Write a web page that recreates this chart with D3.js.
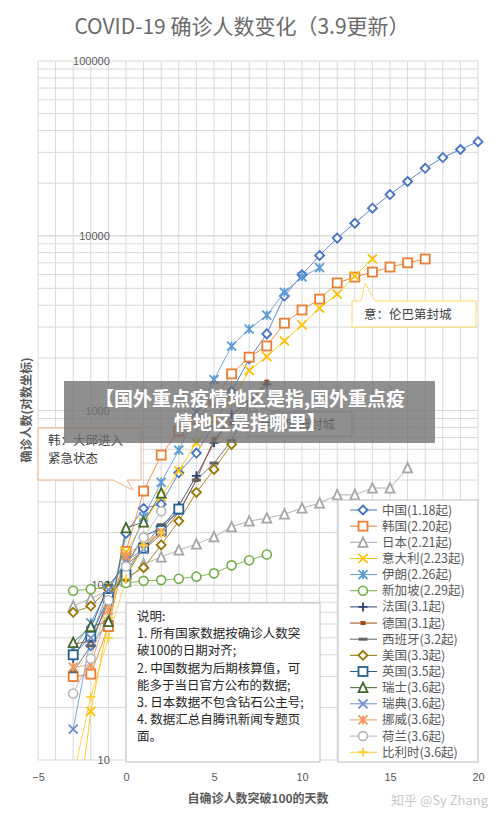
<!DOCTYPE html>
<html><head><meta charset="utf-8">
<script src="https://cdn.jsdelivr.net/npm/d3@7/dist/d3.min.js"></script>
<style>body{margin:0;background:#fff}svg{font-family:"Noto Sans CJK SC","Noto Sans",sans-serif}</style>
</head><body><svg id="c" width="500" height="825"></svg>
<script>
const names=["中国(1.18起)","韩国(2.20起)","日本(2.21起)","意大利(2.23起)","伊朗(2.26起)","新加坡(2.29起)","法国(3.1起)","德国(3.1起)","西班牙(3.2起)","美国(3.3起)","英国(3.5起)","瑞士(3.6起)","瑞典(3.6起)","挪威(3.6起)","荷兰(3.6起)","比利时(3.6起)"];
const colors=["#4472C4","#ED7D31","#A5A5A5","#FFC000","#5B9BD5","#70AD47","#264478","#9E480E","#636363","#997300","#255E91","#43682B","#698ED0","#F1975A","#B7B7B7","#FFCD33"];
const markers=["diamond","square","triangle","x","asterisk","circle","plus","smallsq","dash","diamond","square","triangle","x","asterisk","circle","plus"];
const startDays=[-2,-3,-3,-3,-3,-3,-3,-3,-3,-3,-3,-3,-3,-3,-3,-3];
const china=[45,62,198,275,291,440,571,830,1287,1975,2744,4515,5974,7711,9692,11791,14380,17205,20438,24324,28018,31161,34546];
const korea=[30,31,58,156,346,556,763,893,1146,1620,2020,2340,3160,3760,4340,5370,5800,6200,6620,7000,7360];
const japan=[76,84,93,105,132,145,159,172,189,216,233,242,255,276,295,329,329,360,360,470];
const italy=[3,19,62,155,229,322,453,655,888,1128,1694,2036,2502,3089,3858,4636,5883,7375];
const iran=[43,61,95,139,245,388,593,978,1501,2336,2922,3513,4747,5823,6566];
const singapore=[93,95,98,103,106,107,109,112,117,130,139,150];
const france=[38,57,100,130,191,212,285,423,653,949,1126,1412];
const germany=[46,48,79,130,159,196,262,400,684,847,1112,1460];
const spain=[32,45,84,120,165,222,259,400,500,673,1073];
const usa=[70,76,95,110,126,170,233,340,460,640];
const uk=[40,51,85,115,163,206,273];
const swiss=[47,58,62,213,230,337];
const sweden=[15,50,94,137,161,203];
const norway=[34,35,72,147,176,200];
const netherlands=[24,38,82,128,188,265];
const belgium=[8,23,50,109,169,200];
const series=[china,korea,japan,italy,iran,singapore,france,germany,spain,usa,uk,swiss,sweden,norway,netherlands,belgium];
const xTicks=[-5,0,5,10,15,20];
const yTicks=[10,100,1000,10000,100000];
const title="COVID-19 确诊人数变化（3.9更新）";
const noteLines=["说明:","1. 所有国家数据按确诊人数突","破100的日期对齐;","2. 中国数据为后期核算值，可","能多于当日官方公布的数据;","3. 日本数据不包含钻石公主号;","4. 数据汇总自腾讯新闻专题页","面。"];

const svg=d3.select("#c");
const L=38,R=478,T=61,B=760;
const x=d3.scaleLinear().domain([-5,20]).range([L,R]);
const y=d3.scaleLog().domain([10,100000]).range([B,T]);
const gray="#595959";
svg.append("text").attr("x",242).attr("y",34).attr("text-anchor","middle").attr("font-size",21).attr("fill","#6a6a6a").text(title);
const g=svg.append("g");
d3.range(-5,21).forEach(d=>g.append("line").attr("x1",x(d)).attr("x2",x(d)).attr("y1",T).attr("y2",B).attr("stroke","#d9d9d9"));
[10,100,1000,10000].forEach(dec=>{for(let k=1;k<=10;k++){const v=dec*k;g.append("line").attr("x1",L).attr("x2",R).attr("y1",y(v)).attr("y2",y(v)).attr("stroke","#d9d9d9");}});
const ya=svg.append("g").attr("transform",`translate(${x(-0.75)},0)`).call(d3.axisLeft(y).tickValues(yTicks).tickFormat(d3.format("d")).tickSize(0));
ya.select(".domain").remove();ya.selectAll("text").attr("fill",gray).attr("font-size",11).attr("font-family","Liberation Sans, sans-serif");
const xa=svg.append("g").attr("transform",`translate(0,${B+10})`).call(d3.axisBottom(x).tickValues(xTicks).tickSize(0));
xa.select(".domain").remove();xa.selectAll("text").attr("fill",gray).attr("font-size",11).attr("font-family","Liberation Sans, sans-serif");
svg.append("text").attr("x",258).attr("y",803).attr("text-anchor","middle").attr("font-size",12).attr("font-weight","bold").attr("fill",gray).text("自确诊人数突破100的天数");
svg.append("text").attr("transform","translate(31,410) rotate(-90)").attr("text-anchor","middle").attr("font-size",12).attr("font-weight","bold").attr("fill",gray).text("确诊人数(对数坐标)");
svg.append("text").attr("x",488).attr("y",805).attr("text-anchor","end").attr("font-size",13).attr("fill","#c8c8c8").text("知乎 @Sy Zhang");
svg.append("clipPath").attr("id","clp").append("rect").attr("x",L-8).attr("y",T-8).attr("width",R-L+16).attr("height",B-T+8);
function marker(sel,type,c){
  const s=4.5;
  if(type==="diamond")sel.append("path").attr("d",`M0,${-s}L${s},0L0,${s}L${-s},0Z`).attr("fill","#fff").attr("stroke",c).attr("stroke-width",1.8);
  else if(type==="square")sel.append("rect").attr("x",-s).attr("y",-s).attr("width",2*s).attr("height",2*s).attr("fill","#fff").attr("stroke",c).attr("stroke-width",1.8);
  else if(type==="triangle")sel.append("path").attr("d",`M0,${-s-0.5}L${s},${s}L${-s},${s}Z`).attr("fill","#fff").attr("stroke",c).attr("stroke-width",1.8);
  else if(type==="circle")sel.append("circle").attr("r",s).attr("fill","#fff").attr("stroke",c).attr("stroke-width",1.6);
  else if(type==="x")sel.append("path").attr("d",`M${-s},${-s}L${s},${s}M${-s},${s}L${s},${-s}`).attr("stroke",c).attr("stroke-width",1.8);
  else if(type==="asterisk")sel.append("path").attr("d",`M${-s},${-s}L${s},${s}M${-s},${s}L${s},${-s}M0,${-s}L0,${s}`).attr("stroke",c).attr("stroke-width",1.8);
  else if(type==="plus")sel.append("path").attr("d",`M${-s},0L${s},0M0,${-s}L0,${s}`).attr("stroke",c).attr("stroke-width",1.8);
  else if(type==="smallsq")sel.append("rect").attr("x",-2.5).attr("y",-2).attr("width",5).attr("height",4).attr("fill",c);
  else if(type==="dash")sel.append("rect").attr("x",-4.5).attr("y",-1.5).attr("width",9).attr("height",3).attr("fill",c);
}
const dg=svg.append("g").attr("clip-path","url(#clp)");
const line=d3.line().x(d=>x(d[0])).y(d=>y(Math.max(d[1],1)));
series.forEach((arr,i)=>{
  const pts=arr.map((v,j)=>[startDays[i]+j,v]);
  dg.append("path").attr("d",line(pts)).attr("fill","none").attr("stroke",colors[i]).attr("stroke-width",1).attr("opacity",0.85);
});
series.forEach((arr,i)=>{
  arr.forEach((v,j)=>{ if(v<10)return; const m=dg.append("g").attr("transform",`translate(${x(startDays[i]+j)},${y(v)})`); marker(m,markers[i],colors[i]);});
});
function callout(x0,y0,w,h,px,py,bx,c,lines){
  const p=`M${x0},${y0}H${x0+w}V${y0+h}H${bx+14}L${px},${py}L${bx},${y0+h}H${x0}Z`;
  svg.append("path").attr("d",p).attr("fill","#fff").attr("stroke",c).attr("stroke-width",1);
  lines.forEach((t,k)=>svg.append("text").attr("x",x0+10).attr("y",y0+17+k*18).attr("font-size",12.5).attr("fill","#404040").text(t));
}
callout(38,428,103,52,133,490,113,"#F4B183",["韩：大邱进入","紧急状态"]);
function callUp(x0,y0,w,h,px,py,bx,c,t){
  const p=`M${x0},${y0}H${bx}L${px},${py}L${bx+14},${y0}H${x0+w}V${y0+h}H${x0}Z`;
  svg.append("path").attr("d",p).attr("fill","#fff").attr("stroke",c).attr("stroke-width",1);
  svg.append("text").attr("x",x0+12).attr("y",y0+h/2+5).attr("font-size",12.5).attr("fill","#404040").text(t);
}
callUp(352,301,124,26,365,283,361,"#FFD966","意：伦巴第封城");
callUp(248,412,104,24,245,400,258,"#8FAADC","伊：库姆封城");
svg.append("rect").attr("x",126).attr("y",603).attr("width",194).attr("height",159).attr("fill","#fff").attr("stroke","#bfbfbf");
noteLines.forEach((t,k)=>svg.append("text").attr("x",137).attr("y",621+k*17.2).attr("font-size",12.5).attr("fill","#262626").text(t));
svg.append("rect").attr("x",338).attr("y",500).attr("width",140).attr("height",262).attr("fill","#fff").attr("stroke","#bfbfbf");
names.forEach((n,i)=>{
  const yy=510+i*16.15;
  svg.append("line").attr("x1",350).attr("x2",377).attr("y1",yy).attr("y2",yy).attr("stroke",colors[i]).attr("stroke-width",1);
  const m=svg.append("g").attr("transform",`translate(363,${yy})`);marker(m,markers[i],colors[i]);
  svg.append("text").attr("x",382).attr("y",yy+4.5).attr("font-size",12.5).attr("fill",gray).text(n);
});
svg.append("rect").attr("x",64).attr("y",381).attr("width",371).attr("height",62).attr("fill","#6f6f6f").attr("opacity",0.78);
["【国外重点疫情地区是指,国外重点疫","情地区是指哪里】"].forEach((t,k)=>svg.append("text").attr("x",250).attr("y",406+k*24).attr("text-anchor","middle").attr("font-size",19).attr("font-weight","bold").attr("fill","#fff").text(t));
</script></body></html>
